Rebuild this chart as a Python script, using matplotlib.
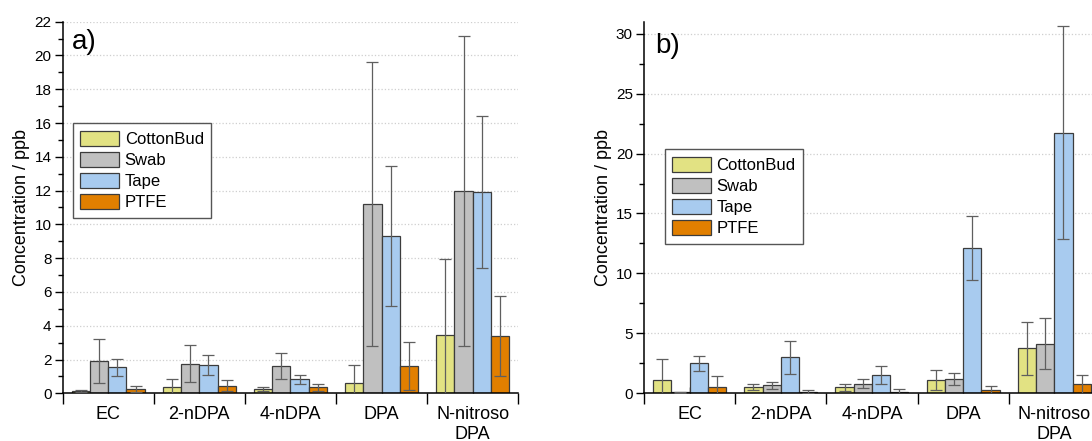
import matplotlib
matplotlib.use("Agg")
import matplotlib.pyplot as plt
from matplotlib.ticker import MultipleLocator, FixedLocator
import numpy as np

plt.rcParams['font.family'] = ['Liberation Sans', 'DejaVu Sans']

categorias = ["EC", "2-nDPA", "4-nDPA", "DPA", "N-nitroso\nDPA"]
series = ["CottonBud", "Swab", "Tape", "PTFE"]
colores = ["#E2E283", "#C0C0C0", "#A8CBEF", "#E17F00"]

# panel a
a_cottonbud = [0.15, 0.39, 0.26, 0.59, 3.43]
a_swab = [1.91, 1.74, 1.62, 11.21, 11.98]
a_tape = [1.54, 1.68, 0.83, 9.31, 11.92]
a_ptfe = [0.26, 0.45, 0.36, 1.62, 3.39]
a_err_cottonbud = [0.05, 0.43, 0.14, 1.07, 4.54]
a_err_swab = [1.3, 1.1, 0.78, 8.4, 9.2]
a_err_tape = [0.5, 0.6, 0.27, 4.15, 4.52]
a_err_ptfe = [0.2, 0.33, 0.2, 1.4, 2.35]

# panel b
b_cottonbud = [1.11, 0.56, 0.50, 1.11, 3.75]
b_swab = [0.08, 0.67, 0.81, 1.19, 4.14]
b_tape = [2.50, 3.00, 1.53, 12.08, 21.75]
b_ptfe = [0.56, 0.14, 0.14, 0.28, 0.75]
b_err_cottonbud = [1.75, 0.25, 0.28, 0.8, 2.2]
b_err_swab = [0.05, 0.3, 0.36, 0.53, 2.14]
b_err_tape = [0.64, 1.4, 0.72, 2.67, 8.9]
b_err_ptfe = [0.86, 0.1, 0.2, 0.3, 0.8]


def panel(ax, valores, errores, ymax, paso, letra, leg_pos, let_pos):
    x = np.arange(1, len(categorias) + 1)
    ancho = 0.2
    offsets = [-0.3, -0.1, 0.1, 0.3]
    for i in range(4):
        ax.bar(x + offsets[i], valores[i], ancho, color=colores[i],
               edgecolor="#3c3c3c", linewidth=0.9, label=series[i], zorder=2)
        ax.errorbar(x + offsets[i], valores[i], yerr=errores[i], fmt="none",
                    ecolor="#5f5f5f", elinewidth=0.9, capsize=4,
                    capthick=0.9, zorder=3)
    ax.set_xlim(0.5, len(categorias) + 0.5)
    ax.set_ylim(0, ymax)
    ax.spines["top"].set_visible(False)
    ax.spines["right"].set_visible(False)
    ax.spines["left"].set_linewidth(1.1)
    ax.spines["bottom"].set_linewidth(1.1)
    ax.set_xticks(x)
    ax.set_xticklabels(categorias, fontsize=13, linespacing=1.25)
    ax.xaxis.set_minor_locator(FixedLocator(np.arange(0.5, len(categorias) + 1, 1)))
    ax.tick_params(axis="x", which="major", direction="in", length=4, width=1, pad=9)
    ax.tick_params(axis="x", which="minor", direction="out", length=8, width=1)
    ax.yaxis.set_major_locator(MultipleLocator(paso))
    ax.yaxis.set_minor_locator(MultipleLocator(paso / 2))
    ax.tick_params(axis="y", which="major", direction="out", length=6, width=1,
                   labelsize=11, pad=2)
    ax.tick_params(axis="y", which="minor", direction="out", length=3.5, width=1)
    ax.yaxis.grid(True, which="major", linestyle=":", color="#cfcfcf", linewidth=0.9, zorder=0)
    ax.set_axisbelow(True)
    ax.set_ylabel("Concentration / ppb", fontsize=13, labelpad=3)
    ax.text(let_pos[0], let_pos[1], letra, transform=ax.transAxes,
            fontsize=20, va="center", ha="left")
    leg = ax.legend(loc="upper left", bbox_to_anchor=leg_pos, borderaxespad=0,
                    fontsize=12, fancybox=False, framealpha=1,
                    handlelength=2.3, handleheight=1.0, handletextpad=0.35,
                    labelspacing=0.3, borderpad=0.45, edgecolor="#555555")
    leg.get_frame().set_linewidth(1.0)


fig = plt.figure(figsize=(10.92, 4.41), dpi=100)
ax1 = fig.add_axes([0.0574, 0.1082, 0.4172, 0.8426])
ax2 = fig.add_axes([0.5897, 0.1082, 0.4176, 0.8426])

panel(ax1, [a_cottonbud, a_swab, a_tape, a_ptfe],
      [a_err_cottonbud, a_err_swab, a_err_tape, a_err_ptfe],
      22, 2, "a)", (0.0226, 0.727), (0.02, 0.945))
panel(ax2, [b_cottonbud, b_swab, b_tape, b_ptfe],
      [b_err_cottonbud, b_err_swab, b_err_tape, b_err_ptfe],
      31, 5, "b)", (0.046, 0.657), (0.024, 0.935))

fig.savefig("out.png", dpi=100)
